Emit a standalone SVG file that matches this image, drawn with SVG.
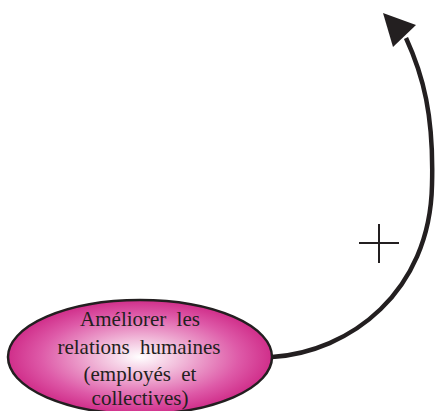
<svg xmlns="http://www.w3.org/2000/svg" width="435" height="411" viewBox="0 0 435 411">
<defs>
<radialGradient id="g" cx="50%" cy="50%" r="50%">
<stop offset="0" stop-color="#ffffff"/>
<stop offset="0.3" stop-color="#f2bfdc"/>
<stop offset="0.75" stop-color="#de5aa8"/>
<stop offset="1" stop-color="#d02e8a"/>
</radialGradient>
</defs>
<style>
.lbl{font-family:"Liberation Serif","Times New Roman",serif;font-size:21px;fill:#231f20;text-anchor:middle;word-spacing:5px}
.edge{fill:none;stroke:#231f20;stroke-width:4.5}
</style>
<rect width="435" height="411" fill="#ffffff"/>
<g id="connectors">
<path class="edge" d="M272,357 C350,352 430,292 432,185 C434,115 423,75 406,38"/>
<polygon points="383,13 416,25 393,47" fill="#231f20"/>
<path d="M359,243 H399 M379,224 V263" stroke="#231f20" stroke-width="2" fill="none"/>
</g>
<g id="node1">
<ellipse cx="140" cy="357" rx="132" ry="57" fill="url(#g)" stroke="#231f20" stroke-width="2.5"/>
<text class="lbl" x="140" y="326">Améliorer les</text>
<text class="lbl" x="139" y="354">relations humaines</text>
<text class="lbl" x="140" y="381">(employés et</text>
<text class="lbl" x="140" y="405">collectives)</text>
</g>
</svg>
